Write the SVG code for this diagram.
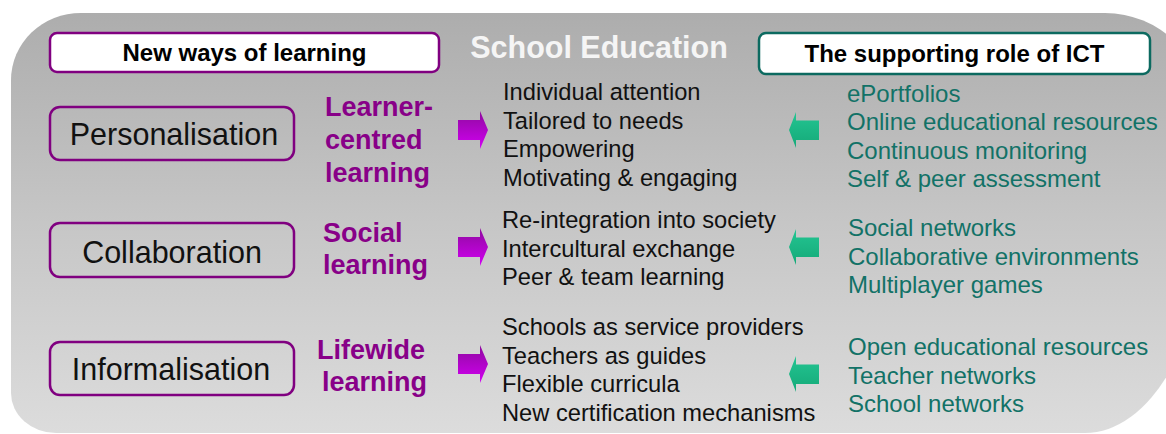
<svg xmlns="http://www.w3.org/2000/svg" width="1166" height="434" viewBox="0 0 1166 434">
<style>
  text { font-family: "Liberation Sans", Arial, sans-serif; }
  .hdr { font-size: 24px; font-weight: bold; fill: #000; text-anchor: middle; }
  .node { fill: none; stroke: #800080; stroke-width: 2.5; }
  .nodetxt { font-size: 30.5px; fill: #111; text-anchor: middle; }
  .lab { font-size: 27px; font-weight: bold; fill: #880088; }
  .mid { font-size: 23.7px; fill: #111; }
  .ict { font-size: 24px; fill: #127267; }
</style>
<defs>
  <linearGradient id="bg" x1="0" y1="0" x2="0" y2="1">
    <stop offset="0" stop-color="#adadad"/>
    <stop offset="0.5" stop-color="#c6c6c6"/>
    <stop offset="1" stop-color="#dcdcdc"/>
  </linearGradient>
  <linearGradient id="pg" x1="0" y1="0" x2="0" y2="1">
    <stop offset="0" stop-color="#8e0a9e"/>
    <stop offset="1" stop-color="#d200f2"/>
  </linearGradient>
  <linearGradient id="gg" x1="0" y1="0" x2="0" y2="1">
    <stop offset="0" stop-color="#24c592"/>
    <stop offset="1" stop-color="#14a978"/>
  </linearGradient>
  <path id="parrow" d="M0,-10 L22,-10 L22,-19 L30,0 L22,19 L22,10 L0,10 Z"/>
  <path id="garrow" d="M0,0 L7,-18 L7,-9.5 L30,-9.5 L30,10 L7,10 L7,18 Z"/>
</defs>

<path id="background" d="M11,80 A70,67 0 0 1 81,13 L1105,13 A100,100 0 0 1 1205,113 L1205,221 A120,212 0 0 1 1085,433 L56,433 A45,40 0 0 1 11,393 Z" fill="url(#bg)"/>

<g id="header-left">
  <rect x="50" y="33" width="389" height="39" rx="7" fill="#fff" stroke="#800080" stroke-width="2.5"/>
  <text class="hdr" x="244.5" y="61">New ways of learning</text>
</g>
<g id="title">
  <text x="599" y="57.5" font-size="30.5" font-weight="bold" fill="#f5f5f5" text-anchor="middle">School Education</text>
</g>
<g id="header-right">
  <rect x="759" y="33" width="391" height="41" rx="7" fill="#fff" stroke="#0c6a60" stroke-width="2.5"/>
  <text class="hdr" x="954.5" y="62">The supporting role of ICT</text>
</g>

<g id="personalisation">
  <rect class="node" x="50" y="107" width="244" height="53" rx="10"/>
  <text class="nodetxt" x="174" y="145">Personalisation</text>
</g>
<g id="collaboration">
  <rect class="node" x="50" y="223" width="244" height="54" rx="10"/>
  <text class="nodetxt" x="172" y="263">Collaboration</text>
</g>
<g id="informalisation">
  <rect class="node" x="50" y="342" width="244" height="53" rx="10"/>
  <text class="nodetxt" x="171" y="380">Informalisation</text>
</g>

<g id="learner-centred">
  <text class="lab" x="325" y="116">Learner-</text>
  <text class="lab" x="325" y="149">centred</text>
  <text class="lab" x="325" y="182">learning</text>
</g>
<g id="social-learning">
  <text class="lab" x="323" y="242">Social</text>
  <text class="lab" x="323" y="274">learning</text>
</g>
<g id="lifewide-learning">
  <text class="lab" x="317" y="359">Lifewide</text>
  <text class="lab" x="322" y="391">learning</text>
</g>

<g id="outcomes-1">
  <text class="mid" x="503" y="100">Individual attention</text>
  <text class="mid" x="503" y="128.7">Tailored to needs</text>
  <text class="mid" x="503" y="157.3">Empowering</text>
  <text class="mid" x="503" y="186">Motivating &amp; engaging</text>
</g>
<g id="outcomes-2">
  <text class="mid" x="502" y="228">Re-integration into society</text>
  <text class="mid" x="502" y="256.5">Intercultural exchange</text>
  <text class="mid" x="502" y="285">Peer &amp; team learning</text>
</g>
<g id="outcomes-3">
  <text class="mid" x="502" y="335">Schools as service providers</text>
  <text class="mid" x="502" y="363.7">Teachers as guides</text>
  <text class="mid" x="502" y="392.3">Flexible curricula</text>
  <text class="mid" x="502" y="421">New certification mechanisms</text>
</g>

<g id="ict-1">
  <text class="ict" x="847" y="101.5">ePortfolios</text>
  <text class="ict" x="847" y="130">Online educational resources</text>
  <text class="ict" x="847" y="158.7">Continuous monitoring</text>
  <text class="ict" x="847" y="187.4">Self &amp; peer assessment</text>
</g>
<g id="ict-2">
  <text class="ict" x="848" y="236">Social networks</text>
  <text class="ict" x="848" y="264.5">Collaborative environments</text>
  <text class="ict" x="848" y="293">Multiplayer games</text>
</g>
<g id="ict-3">
  <text class="ict" x="848" y="355">Open educational resources</text>
  <text class="ict" x="848" y="383.5">Teacher networks</text>
  <text class="ict" x="848" y="412">School networks</text>
</g>

<g id="connectors">
  <use href="#parrow" x="458" y="130" fill="url(#pg)"/>
  <use href="#parrow" x="458" y="247" fill="url(#pg)"/>
  <use href="#parrow" x="458" y="364" fill="url(#pg)"/>
  <use href="#garrow" x="789" y="130" fill="url(#gg)"/>
  <use href="#garrow" x="789" y="247" fill="url(#gg)"/>
  <use href="#garrow" x="789" y="374" fill="url(#gg)"/>
</g>
</svg>
